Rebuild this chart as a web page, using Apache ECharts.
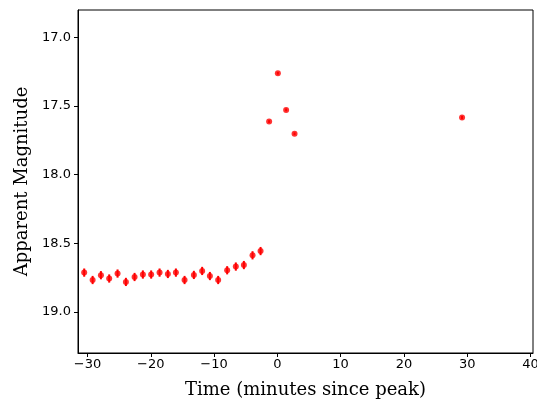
<!DOCTYPE html>
<html>
<head>
<meta charset="utf-8">
<script src="https://cdn.jsdelivr.net/npm/echarts@6/dist/echarts.min.js"></script>
<style>html,body{margin:0;padding:0;background:#fff;}#c{width:537px;height:400px;}</style>
</head>
<body>
<div id="c"></div>
<script>
const times = [-30.52,-29.19,-27.88,-26.57,-25.25,-23.93,-22.56,-21.25,-19.94,-18.61,-17.30,-16.03,-14.66,-13.19,-11.88,-10.66,-9.35,-7.93,-6.56,-5.29,-3.92,-2.65,-1.30,0.08,1.39,2.72,29.19];
const mags = [18.714,18.768,18.733,18.757,18.721,18.782,18.746,18.728,18.728,18.714,18.724,18.714,18.768,18.731,18.702,18.739,18.768,18.697,18.670,18.659,18.588,18.557,17.613,17.261,17.528,17.702,17.584];
const errs = [0.03,0.03,0.03,0.03,0.03,0.03,0.03,0.03,0.03,0.03,0.03,0.03,0.03,0.03,0.03,0.03,0.03,0.03,0.03,0.03,0.03,0.03,0.01,0.01,0.01,0.01,0.012];
const xTicks = [-30,-20,-10,0,10,20,30,40];
const yTicks = [17.0,17.5,18.0,18.5,19.0];

const pts = times.map((t,i)=>[t,mags[i],errs[i]]);
const chart = echarts.init(document.getElementById('c'), null, {renderer:'canvas'});
const tickFont = {fontFamily:'DejaVu Sans', fontSize:13, color:'#000'};
chart.setOption({
  animation:false,
  backgroundColor:'#fff',
  grid:{left:78,right:4,top:10,bottom:47,show:true,borderColor:'#000',borderWidth:1,containLabel:false,outerBoundsMode:'none'},
  xAxis:{
    type:'value', min:-31.5, max:40.4,
    name:'Time (minutes since peak)', nameLocation:'middle', nameGap:28,
    nameTextStyle:{fontFamily:'DejaVu Serif', fontSize:18, color:'#000'},
    axisLine:{show:true,onZero:false,lineStyle:{color:'#000',width:1}},
    axisTick:{show:true,length:4,inside:false,customValues:xTicks,lineStyle:{color:'#000'}},
    axisLabel:{customValues:xTicks,margin:5,formatter:v=>String(v).replace('-','\u2212'),...tickFont},
    splitLine:{show:false}
  },
  yAxis:{
    type:'value', min:16.8, max:19.3, inverse:true,
    name:'Apparent Magnitude', nameLocation:'middle', nameGap:44, nameRotate:90,
    nameTextStyle:{fontFamily:'DejaVu Serif', fontSize:18, color:'#000'},
    axisLine:{show:true,onZero:false,lineStyle:{color:'#000',width:1}},
    axisTick:{show:true,length:4,inside:false,customValues:yTicks,lineStyle:{color:'#000'}},
    axisLabel:{customValues:yTicks,margin:7,formatter:v=>v.toFixed(1),...tickFont},
    splitLine:{show:false}
  },
  series:[
    {
      type:'custom',
      data:pts,
      encode:{x:0,y:1},
      renderItem:function(params,api){
        const x=api.value(0), y=api.value(1), e=api.value(2);
        const a=api.coord([x,y-e]), b=api.coord([x,y+e]);
        return {type:'line',shape:{x1:a[0],y1:a[1],x2:b[0],y2:b[1]},style:{stroke:'#ff0000',lineWidth:2}};
      },
      z:2
    },
    {
      type:'scatter',
      data:pts.map(p=>[p[0],p[1]]),
      symbol:'circle', symbolSize:6,
      itemStyle:{color:'#ff0000'},
      z:3
    }
  ]
});
</script>
</body>
</html>
